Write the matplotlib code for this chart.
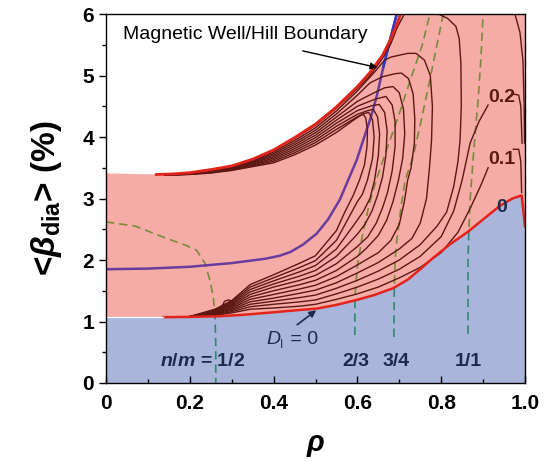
import numpy as np
import matplotlib
matplotlib.use('Agg')
import matplotlib.pyplot as plt

plt.rcParams['font.family'] = ['Liberation Sans', 'DejaVu Sans']
plt.rcParams['mathtext.fontset'] = 'custom'
plt.rcParams['mathtext.it'] = 'Liberation Sans:italic:bold'
plt.rcParams['mathtext.rm'] = 'Liberation Sans:bold'
plt.rcParams['mathtext.bf'] = 'Liberation Sans:bold'

# ---------------- data (rho, <beta_dia>) ----------------
# upper boundary of the computed (pink) region
up_rho  = [0.0, 0.12, 0.16, 0.20, 0.25, 0.30, 0.35, 0.40, 0.45, 0.50, 0.55, 0.60, 0.63, 0.66, 0.68, 0.695, 0.703]
up_beta = [3.41, 3.39, 3.40, 3.42, 3.47, 3.53, 3.64, 3.79, 3.99, 4.21, 4.49, 4.82, 5.05, 5.33, 5.60, 5.85, 6.0]
# D_I = 0 boundary (lower)
lo_rho  = [0.0, 0.136, 0.20, 0.27, 0.33, 0.40, 0.45, 0.503, 0.55, 0.598, 0.64, 0.685, 0.72, 0.75, 0.78, 0.82, 0.864, 0.90, 0.94, 0.97, 0.992, 1.0]
lo_beta = [1.07, 1.07, 1.075, 1.085, 1.11, 1.15, 1.18, 1.21, 1.27, 1.35, 1.43, 1.54, 1.68, 1.85, 2.03, 2.25, 2.46, 2.66, 2.88, 3.00, 3.05, 2.55]

# magnetic well / hill boundary
well_rho  = [0.0, 0.10, 0.20, 0.30, 0.38, 0.415, 0.44, 0.47, 0.503, 0.53, 0.558, 0.578, 0.598, 0.614, 0.632, 0.646, 0.662, 0.678, 0.694]
well_beta = [1.85, 1.86, 1.89, 1.95, 2.02, 2.07, 2.13, 2.25, 2.43, 2.66, 2.98, 3.30, 3.62, 3.95, 4.32, 4.66, 5.14, 5.58, 6.0]

# rational surfaces n/m
res_labels = ['1/2', '2/3', '3/4', '1/1']
res_rho = [
    [0.0, 0.07, 0.145, 0.19, 0.216, 0.236, 0.248, 0.256, 0.26, 0.262, 0.262],
    [0.594, 0.594, 0.60, 0.612, 0.628, 0.645, 0.66, 0.70, 0.73, 0.755, 0.773],
    [0.687, 0.688, 0.69, 0.694, 0.705, 0.714, 0.733, 0.75, 0.773, 0.79, 0.805],
    [0.864, 0.864, 0.865, 0.869, 0.878, 0.888, 0.895, 0.90],
]
res_beta = [
    [2.62, 2.55, 2.35, 2.24, 2.16, 1.95, 1.67, 1.40, 1.13, 0.6, 0.0],
    [0.78, 1.40, 1.90, 2.40, 2.90, 3.30, 3.60, 4.38, 5.00, 5.50, 6.0],
    [0.75, 1.55, 2.00, 2.33, 2.90, 3.30, 3.68, 4.20, 4.93, 5.50, 6.0],
    [0.80, 2.00, 2.27, 2.98, 3.80, 4.60, 5.30, 6.0],
]

# D_I contour lines (values 0.1 ... ), read as polylines
fan_rho = [0.20, 0.26, 0.30, 0.344, 0.40, 0.463, 0.50, 0.55]
fan_beta = {
    1:  [1.08, 1.10, 1.14, 1.20, 1.22, 1.25, 1.28, 1.36],
    2:  [1.08, 1.11, 1.16, 1.24, 1.28, 1.32, 1.35, 1.45],
    3:  [1.08, 1.12, 1.18, 1.28, 1.33, 1.39, 1.43, 1.54],
    4:  [1.08, 1.13, 1.20, 1.32, 1.38, 1.46, 1.51, 1.63],
    5:  [1.08, 1.14, 1.22, 1.36, 1.44, 1.53, 1.59, 1.73],
    6:  [1.08, 1.15, 1.24, 1.40, 1.50, 1.60, 1.67, 1.83],
    7:  [1.08, 1.16, 1.26, 1.44, 1.56, 1.67, 1.75, 1.94],
    8:  [1.08, 1.17, 1.28, 1.48, 1.61, 1.74, 1.83, 2.06],
    9:  [1.08, 1.18, 1.30, 1.52, 1.66, 1.81, 1.91, 2.18],
    10: [1.08, 1.19, 1.32, 1.56, 1.71, 1.88, 1.99, 2.32],
    11: [1.08, 1.20, 1.34, 1.60, 1.76, 1.95, 2.07, 2.48],
}
# right part of each line (from the fan to arch / label)
mid_rho = {
    1:  [0.60, 0.65, 0.70, 0.75, 0.80, 0.84, 0.87, 0.895, 0.912],
    2:  [0.60, 0.65, 0.70, 0.75, 0.80, 0.83, 0.85, 0.869, 0.89, 0.912],
    3:  [0.60, 0.65, 0.70, 0.75, 0.79, 0.813, 0.83, 0.84, 0.845, 0.848, 0.847, 0.843, 0.835, 0.815, 0.793],
    4:  [0.60, 0.65, 0.70, 0.73, 0.75, 0.765, 0.772, 0.777, 0.779, 0.774, 0.76, 0.74, 0.72, 0.70, 0.68, 0.665, 0.64, 0.60],
    5:  [0.60, 0.65, 0.68, 0.70, 0.712, 0.72, 0.728, 0.736, 0.737, 0.733, 0.722, 0.705, 0.69, 0.66, 0.63, 0.60],
    6:  [0.60, 0.62, 0.65, 0.67, 0.685, 0.698, 0.708, 0.713, 0.71, 0.70, 0.685, 0.665, 0.64, 0.60],
    7:  [0.60, 0.625, 0.645, 0.66, 0.672, 0.683, 0.69, 0.69, 0.683, 0.668, 0.64, 0.60],
    8:  [0.60, 0.618, 0.635, 0.648, 0.66, 0.668, 0.671, 0.665, 0.652, 0.635, 0.60],
    9:  [0.60, 0.615, 0.63, 0.641, 0.65, 0.653, 0.648, 0.638, 0.625, 0.60],
    10: [0.60, 0.612, 0.624, 0.636, 0.64, 0.636, 0.627, 0.615, 0.60],
    11: [0.57, 0.59, 0.605, 0.617, 0.623, 0.624, 0.62, 0.614, 0.605, 0.59],
}
mid_beta = {
    1:  [1.45, 1.56, 1.71, 1.88, 2.12, 2.45, 2.85, 3.22, 3.50],
    2:  [1.56, 1.69, 1.85, 2.06, 2.38, 2.80, 3.30, 3.90, 4.25, 4.52],
    3:  [1.67, 1.82, 2.00, 2.25, 2.55, 2.78, 3.20, 3.60, 3.95, 4.50, 5.20, 5.60, 5.80, 5.93, 6.0],
    4:  [1.79, 1.96, 2.18, 2.35, 2.60, 3.00, 3.50, 3.95, 4.50, 5.00, 5.25, 5.36, 5.36, 5.33, 5.30, 5.25, 5.05, 4.75],
    5:  [1.92, 2.12, 2.32, 2.58, 2.95, 3.30, 3.50, 3.90, 4.30, 4.70, 4.95, 5.04, 5.03, 4.98, 4.88, 4.68],
    6:  [2.06, 2.18, 2.40, 2.65, 2.95, 3.30, 3.65, 4.05, 4.45, 4.72, 4.82, 4.80, 4.72, 4.58],
    7:  [2.22, 2.38, 2.60, 2.85, 3.10, 3.45, 3.85, 4.25, 4.52, 4.66, 4.61, 4.50],
    8:  [2.42, 2.58, 2.80, 3.05, 3.35, 3.70, 4.10, 4.40, 4.53, 4.51, 4.43],
    9:  [2.65, 2.80, 3.00, 3.30, 3.70, 4.05, 4.33, 4.45, 4.43, 4.37],
    10: [2.95, 3.07, 3.30, 3.65, 4.00, 4.28, 4.40, 4.38, 4.33],
    11: [2.78, 3.05, 3.30, 3.55, 3.85, 4.10, 4.31, 4.37, 4.34, 4.27],
}
# left legs running along the upper boundary
leg_rho = [0.55, 0.50, 0.45, 0.40, 0.35, 0.30, 0.25, 0.20, 0.14]
leg_beta = {
    3:  [4.470, 4.190, 3.975, 3.780, 3.630, 3.520, 3.462, 3.415, 3.385],
    4:  [4.425, 4.150, 3.942, 3.755, 3.616, 3.512, 3.456, 3.412, 3.384],
    5:  [4.375, 4.110, 3.909, 3.730, 3.602, 3.504, 3.450, 3.409, 3.383],
    6:  [4.325, 4.070, 3.876, 3.705, 3.588, 3.496, 3.444, 3.406, 3.382],
    7:  [4.275, 4.030, 3.843, 3.680, 3.574, 3.488, 3.438, 3.403, 3.381],
    8:  [4.225, 3.990, 3.810, 3.655, 3.560, 3.480, 3.432, 3.400, 3.380],
    9:  [4.175, 3.950, 3.777, 3.630, 3.546, 3.472, 3.426, 3.397, 3.379],
    10: [4.125, 3.910, 3.744, 3.605, 3.532, 3.464, 3.420, 3.394, 3.378],
    11: [4.075, 3.870, 3.711, 3.580, 3.518, 3.456, 3.414, 3.391, 3.377],
}
# upper part of line 3 (left leg up to the top)
leg3_top_rho = [0.60, 0.63, 0.66, 0.68, 0.695, 0.712]
leg3_top_beta = [4.79, 5.00, 5.28, 5.52, 5.78, 6.0]
# short pieces past the labels, near rho = 1
edge_rho = {1: [0.972, 0.985, 0.99, 0.992], 2: [0.972, 0.985, 0.99, 0.993],
            'e': [0.976, 0.988, 0.995, 0.998, 0.999]}
edge_beta = {1: [3.80, 3.80, 3.60, 3.10], 2: [4.70, 4.68, 4.50, 3.90],
             'e': [6.0, 5.70, 5.25, 4.50, 3.90]}
# small closed loop near the 1/2 surface
loop_rho = [0.278, 0.283, 0.292, 0.302, 0.305, 0.295, 0.278]
loop_beta = [1.26, 1.33, 1.35, 1.33, 1.28, 1.25, 1.26]

level_labels = ['0.2', '0.1', '0']

# ---------------- figure ----------------
fig = plt.figure(figsize=(5.45, 4.61), dpi=100)
ax = fig.add_axes([0.1945, 0.1692, 0.7688, 0.8004])
ax.set_xlim(0, 1.0)
ax.set_ylim(0, 6)

pink = '#f6aca6'
blue = '#a9b5db'
brown = '#5c1712'
red = '#e3241b'
navy = '#1c2a4c'

# pink region
px = list(up_rho) + [1.0] + list(lo_rho[::-1])
py = list(up_beta) + [6.0] + list(lo_beta[::-1])
pink_patch = ax.fill(px, py, color=pink, lw=0, zorder=1)[0]
# blue region
bx = list(lo_rho) + [1.0, 0.0]
by = list(lo_beta) + [0.0, 0.0]
blue_patch = ax.fill(bx, by, color=blue, lw=0, zorder=1)[0]

# rational surfaces (dashed)
for r, b in zip(res_rho, res_beta):
    l1, = ax.plot(r, b, ls=(0, (5, 3)), color='#7a8a3a', lw=1.2, zorder=2)
    l1.set_clip_path(pink_patch)
    l2, = ax.plot(r, b, ls=(0, (5, 3)), color='#2f8a6c', lw=1.2, zorder=2)
    l2.set_clip_path(blue_patch)

# magnetic well / hill boundary
wr = np.array(well_rho); wb = np.array(well_beta)
ax.plot(wr, wb, color='#6a3c9e', lw=1.8, zorder=3)
m = wb >= 5.0
ax.plot(wr[m], wb[m], color='#2a3ccc', lw=1.8, zorder=3)

# contour lines
ckw = dict(color=brown, lw=1.0, zorder=4, solid_joinstyle='round')
for k in range(1, 12):
    r = list(fan_rho) + list(mid_rho[k])
    b = list(fan_beta[k]) + list(mid_beta[k])
    if k >= 4:
        r += list(leg_rho)
        b += list(leg_beta[k])
    ax.plot(r, b, **ckw)
ax.plot(list(leg3_top_rho[::-1]) + list(leg_rho), list(leg3_top_beta[::-1]) + list(leg_beta[3]), **ckw)
for key in edge_rho:
    ax.plot(edge_rho[key], edge_beta[key], **ckw)
ax.plot(loop_rho, loop_beta, **ckw)

# D_I = 0 boundary lines
ax.plot(up_rho[1:], up_beta[1:], color=red, lw=2.0, zorder=5)
ax.plot(lo_rho[1:], lo_beta[1:], color=red, lw=1.8, zorder=5)
ax.plot(lo_rho[:2], lo_beta[:2], color='white', lw=1.0, zorder=5)

# level labels
lab_kw = dict(fontsize=14, fontweight='bold', ha='center', va='center', zorder=6)
ax.text(0.944, 4.65, level_labels[0], color='#5a1a12', **lab_kw)
ax.text(0.944, 3.63, level_labels[1], color='#5a1a12', **lab_kw)
ax.text(0.945, 2.86, level_labels[2], color=navy, **lab_kw)

# n/m labels
ax.text(0.23, 0.35, r'$n/m$ = ' + res_labels[0], color=navy, fontsize=14, fontweight='bold', ha='center', va='center', zorder=6)
for lab, xc in zip(res_labels[1:], [0.596, 0.692, 0.865]):
    ax.text(xc, 0.35, lab, color=navy, fontsize=14, fontweight='bold', ha='center', va='center', zorder=6)

# D_I = 0 annotation
ax.annotate('', xy=(0.507, 1.21), xytext=(0.451, 0.92),
            arrowprops=dict(arrowstyle='-|>', color=navy, lw=1.2, mutation_scale=10), zorder=6)
ax.text(0.383, 0.70, 'D', color=navy, fontsize=14, style='italic', ha='left', va='center', zorder=6)
ax.text(0.416, 0.62, 'I', color=navy, fontsize=8.5, ha='left', va='center', zorder=6)
ax.text(0.428, 0.70, ' = 0', color=navy, fontsize=14, ha='left', va='center', zorder=6)

# Magnetic well annotation
ax.text(0.04, 5.66, 'Magnetic Well/Hill Boundary', color='black', fontsize=14, ha='left', va='center', zorder=6)
ax.annotate('', xy=(0.654, 5.12), xytext=(0.463, 5.41),
            arrowprops=dict(arrowstyle='-|>', color='black', lw=1.0, mutation_scale=10), zorder=6)

# axes styling
ax.set_xticks([0, 0.2, 0.4, 0.6, 0.8, 1.0])
ax.set_xticklabels(['0', '0.2', '0.4', '0.6', '0.8', '1.0'])
ax.set_xticks(np.arange(0, 1.01, 0.1), minor=True)
ax.set_yticks(range(0, 7))
ax.set_yticks(np.arange(0, 6.01, 0.5), minor=True)
ax.tick_params(axis='x', which='both', direction='in', labelsize=15, pad=8)
ax.tick_params(axis='y', which='both', direction='out', labelsize=15)
ax.tick_params(which='major', length=5, width=1)
ax.tick_params(which='minor', length=3, width=1)
for lab in ax.get_xticklabels() + ax.get_yticklabels():
    lab.set_fontweight('bold')
for s in ax.spines.values():
    s.set_linewidth(1.0)
    s.set_zorder(7)

ax.set_xlabel(r'$\rho$', fontsize=21, labelpad=13)
ax.set_ylabel(r'<$\beta_{\mathrm{dia}}$> (%)', fontsize=24, fontweight='bold', labelpad=13)

fig.savefig('out.png', dpi=100)
